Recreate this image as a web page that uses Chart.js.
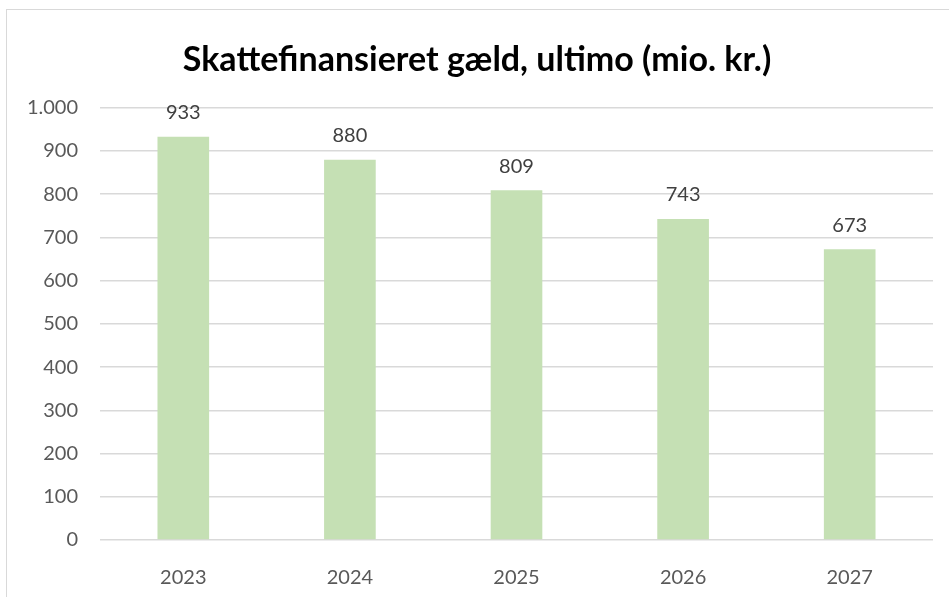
<!DOCTYPE html>
<html lang="da">
<head>
  <meta charset="UTF-8">
  <title>Skattefinansieret gæld</title>
  <script src="https://cdn.jsdelivr.net/npm/chart.js"></script>
  <style>
    html, body { margin: 0; padding: 0; background: #fff; }
    #wrap { position: relative; width: 949px; height: 597px; overflow: hidden; }
    #frame { position: absolute; left: 6px; top: 9px; width: 960px; height: 620px;
             border-top: 1.5px solid #d9d9d9; border-left: 1.5px solid #d9d9d9; }
    canvas { position: absolute; left: 0; top: 0; }
  </style>
</head>
<body>
<div id="wrap">
  <div id="frame"></div>
  <canvas id="chart" width="949" height="597"></canvas>
</div>
<script>
  const years = ['2023', '2024', '2025', '2026', '2027'];
  const debt = [933, 880, 809, 743, 673];
  const fontFamily = 'Lato, "Open Sans", sans-serif';

  // labels over the bars
  const valueLabels = {
    id: 'valueLabels',
    afterDatasetsDraw(chart) {
      const ctx = chart.ctx;
      const meta = chart.getDatasetMeta(0);
      ctx.save();
      ctx.font = '20px ' + fontFamily;
      ctx.fillStyle = '#404040';
      ctx.textAlign = 'center';
      ctx.textBaseline = 'middle';
      meta.data.forEach((bar, i) => {
        ctx.fillText(debt[i].toLocaleString('da-DK'), bar.x, bar.y - 24);
      });
      ctx.restore();
    }
  };

  new Chart(document.getElementById('chart'), {
    type: 'bar',
    data: {
      labels: years,
      datasets: [{
        data: debt,
        backgroundColor: '#C5E0B4',
        borderWidth: 0,
        categoryPercentage: 1,
        barPercentage: 0.31
      }]
    },
    options: {
      responsive: false,
      animation: false,
      layout: { padding: { left: 21, right: 16, top: 0, bottom: 0 } },
      plugins: {
        legend: { display: false },
        tooltip: { enabled: false },
        title: {
          display: true,
          text: 'Skattefinansieret gæld, ultimo (mio. kr.)',
          color: '#000',
          font: { family: fontFamily, size: 34, weight: 'bold' },
          padding: { top: 40, bottom: 27 }
        }
      },
      scales: {
        x: {
          grid: { display: false },
          border: { display: false },
          ticks: { color: '#595959', font: { family: fontFamily, size: 20 }, padding: 18 },
          afterFit(scale) { scale.height = 57; }
        },
        y: {
          min: 0,
          max: 1000,
          ticks: {
            stepSize: 100,
            color: '#595959',
            font: { family: fontFamily, size: 20 },
            padding: 22,
            callback: v => v.toLocaleString('da-DK')
          },
          grid: { color: '#d9d9d9', lineWidth: 1.5, drawTicks: false },
          border: { display: false },
          afterFit(scale) { scale.width = 79; }
        }
      }
    },
    plugins: [valueLabels]
  });
</script>
</body>
</html>
